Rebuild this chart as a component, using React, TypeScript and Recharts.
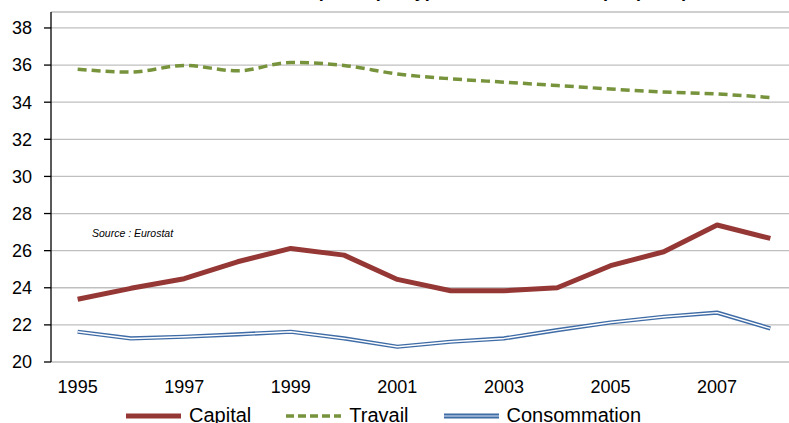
import React from 'react';
import { LineChart, Line, XAxis, YAxis, CartesianGrid } from 'recharts';

// valeurs (en %)
const years = [1995, 1996, 1997, 1998, 1999, 2000, 2001, 2002, 2003, 2004, 2005, 2006, 2007, 2008];
const capital = [23.38, 23.97, 24.49, 25.4, 26.12, 25.76, 24.45, 23.84, 23.84, 24.0, 25.19, 25.94, 27.38, 26.66];
const travail = [35.78, 35.62, 35.98, 35.69, 36.14, 35.98, 35.52, 35.26, 35.08, 34.9, 34.71, 34.55, 34.44, 34.25];
const consommation = [21.63, 21.27, 21.36, 21.49, 21.63, 21.27, 20.82, 21.09, 21.27, 21.72, 22.13, 22.44, 22.66, 21.81];

const yTicks = [20, 22, 24, 26, 28, 30, 32, 34, 36, 38];
const yearLabels = [1995, 1997, 1999, 2001, 2003, 2005, 2007];
const tickMarks = [...years.map(y => y - 0.5), 2008.5];

const TITLE = "Taux de taxation implicite par type de base économique (en %)";
const SOURCE = 'Source : Eurostat';

const data = years.map((year, i) => ({
  year,
  capital: capital[i],
  travail: travail[i],
  consommation: consommation[i],
}));

const FONT = "'Liberation Sans', Arial, sans-serif";
const tickStyle = { fontFamily: FONT, fontSize: 18, fill: '#000' };

const legendItems = [
  { label: 'Capital', kind: 'capital' },
  { label: 'Travail', kind: 'travail' },
  { label: 'Consommation', kind: 'consommation' },
];

function LegendSample({ kind }: { kind: string }) {
  return (
    <svg width={57} height={10} style={{ display: 'block' }}>
      {kind === 'capital' && <line x1={1} y1={5} x2={56} y2={5} stroke="#953735" strokeWidth={5} />}
      {kind === 'travail' && <line x1={1} y1={5} x2={56} y2={5} stroke="#77933C" strokeWidth={3.5} strokeDasharray="8 4" />}
      {kind === 'consommation' && (
        <>
          <line x1={1} y1={5} x2={56} y2={5} stroke="#3F6CA6" strokeWidth={5} />
          <line x1={1} y1={5} x2={56} y2={5} stroke="#dfe8f3" strokeWidth={1} />
        </>
      )}
    </svg>
  );
}

export default function App() {
  return (
    <div style={{ position: 'absolute', left: 0, top: 0, width: 789, height: 423, overflow: 'hidden', background: '#fff', fontFamily: FONT }}>
      {/* titre, coupé en haut dans l'original */}
      <div style={{ position: 'absolute', left: 0, width: 840, top: -19, textAlign: 'center', fontWeight: 'bold', fontSize: 18, whiteSpace: 'nowrap' }}>
        {TITLE}
      </div>

      <LineChart width={812} height={440} data={data} margin={{ top: 12, right: 15, left: 0, bottom: 38 }}>
        <CartesianGrid vertical={false} stroke="#BFBFBF" strokeWidth={1.3} />
        <XAxis
          xAxisId="marks"
          dataKey="year"
          type="number"
          domain={[1994.5, 2008.5]}
          allowDataOverflow
          ticks={tickMarks}
          tick={false}
          tickSize={6}
          height={0}
          axisLine={{ stroke: '#000', strokeWidth: 1.3 }}
          tickLine={{ stroke: '#000', strokeWidth: 1.3 }}
        />
        <XAxis
          xAxisId="labels"
          dataKey="year"
          type="number"
          domain={[1994.5, 2008.5]}
          allowDataOverflow
          ticks={yearLabels}
          interval={0}
          tickSize={0}
          tickMargin={18}
          height={40}
          axisLine={false}
          tickLine={false}
          tick={tickStyle}
        />
        <YAxis
          type="number"
          domain={[20, 38.86]}
          allowDataOverflow
          ticks={yTicks}
          interval={0}
          width={51}
          tickSize={7}
          tickMargin={12}
          axisLine={{ stroke: '#000', strokeWidth: 1.3 }}
          tickLine={{ stroke: '#000', strokeWidth: 1.3 }}
          tick={tickStyle}
        />
        <Line xAxisId="marks" type="monotone" dataKey="travail" stroke="#77933C" strokeWidth={3.5}
          strokeDasharray="9 5" dot={false} isAnimationActive={false} />
        <Line xAxisId="marks" type="linear" dataKey="capital" stroke="#953735" strokeWidth={5}
          strokeLinejoin="round" dot={false} isAnimationActive={false} />
        <Line xAxisId="marks" type="linear" dataKey="consommation" stroke="#3F6CA6" strokeWidth={4.2}
          strokeLinejoin="round" dot={false} isAnimationActive={false} />
        <Line xAxisId="marks" type="linear" dataKey="consommation" stroke="#ffffff" strokeWidth={1.4}
          strokeLinejoin="round" dot={false} isAnimationActive={false} legendType="none" />
      </LineChart>

      <div style={{ position: 'absolute', left: 92, top: 227, fontStyle: 'italic', fontSize: 10.5, color: '#000' }}>
        {SOURCE}
      </div>

      <div style={{ position: 'absolute', left: 125, top: 404, display: 'flex', alignItems: 'center', fontSize: 20, color: '#000', whiteSpace: 'nowrap' }}>
        {legendItems.map((it, i) => (
          <div key={it.kind} style={{ display: 'flex', alignItems: 'center', marginRight: i < 2 ? 34 : 0 }}>
            <LegendSample kind={it.kind} />
            <span style={{ marginLeft: 7 }}>{it.label}</span>
          </div>
        ))}
      </div>
    </div>
  );
}
